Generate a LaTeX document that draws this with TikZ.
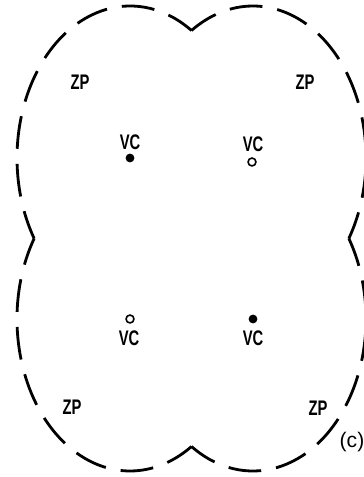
\documentclass[tikz,border=0pt]{standalone}
\usepackage{fontspec}
\setmainfont{Liberation Sans}
\newfontfamily\lblfont[FakeStretch=0.7]{Liberation Sans}
\usetikzlibrary{positioning}

\begin{document}
\begin{tikzpicture}[x=0.02cm,y=0.02cm,
    outline/.style={line width=1.6pt,dash pattern=on 18.7pt off 8.6pt,dash phase=2.8pt},
    zone/.style={font=\lblfont\bfseries\fontsize{12}{14}\selectfont,inner sep=0pt},
    vcdot/.style={circle,fill,inner sep=0pt,minimum size=5pt},
    vcring/.style={circle,draw,line width=0.9pt,inner sep=0pt,minimum size=4.5pt}]
  \useasboundingbox (0,0) rectangle (364,477);
  % lobe centres
  \coordinate (ul) at (130,319);
  \coordinate (ur) at (253,319);
  \coordinate (ll) at (130,158);
  \coordinate (lr) at (253,158);
  % dashed outline, one arc per lobe
  \draw[outline] (ul) ++(57:113 and 152) arc[start angle=57,end angle=212,x radius=113,y radius=152];
  \draw[outline] (ll) ++(148:113 and 152) arc[start angle=148,end angle=303,x radius=113,y radius=152];
  \draw[outline] (lr) ++(237:113 and 152) arc[start angle=237,end angle=392,x radius=113,y radius=152];
  \draw[outline] (ur) ++(328:113 and 152) arc[start angle=328,end angle=483,x radius=113,y radius=152];
  % centres
  \node[vcdot] (dul) at (ul) {};
  \node[vcring] (dur) at (252,315) {};
  \node[vcring] (dll) at (ll) {};
  \node[vcdot] (dlr) at (lr) {};
  \node[zone] (vcul) at (130,335) {VC};
  \node[zone] (vcur) at (253,333) {VC};
  \node[zone] (vcll) at (129,139) {VC};
  \node[zone] (vclr) at (253,139) {VC};
  % zones
  \node[zone] (zpul) at (80,395) {ZP};
  \node[zone] (zpur) at (305,395) {ZP};
  \node[zone] (zpll) at (72,70) {ZP};
  \node[zone] (zplr) at (318,69) {ZP};
  \node[zone,font=\fontsize{12}{14}\selectfont] (tag) at (352,35) {(c)};
\end{tikzpicture}
\end{document}
